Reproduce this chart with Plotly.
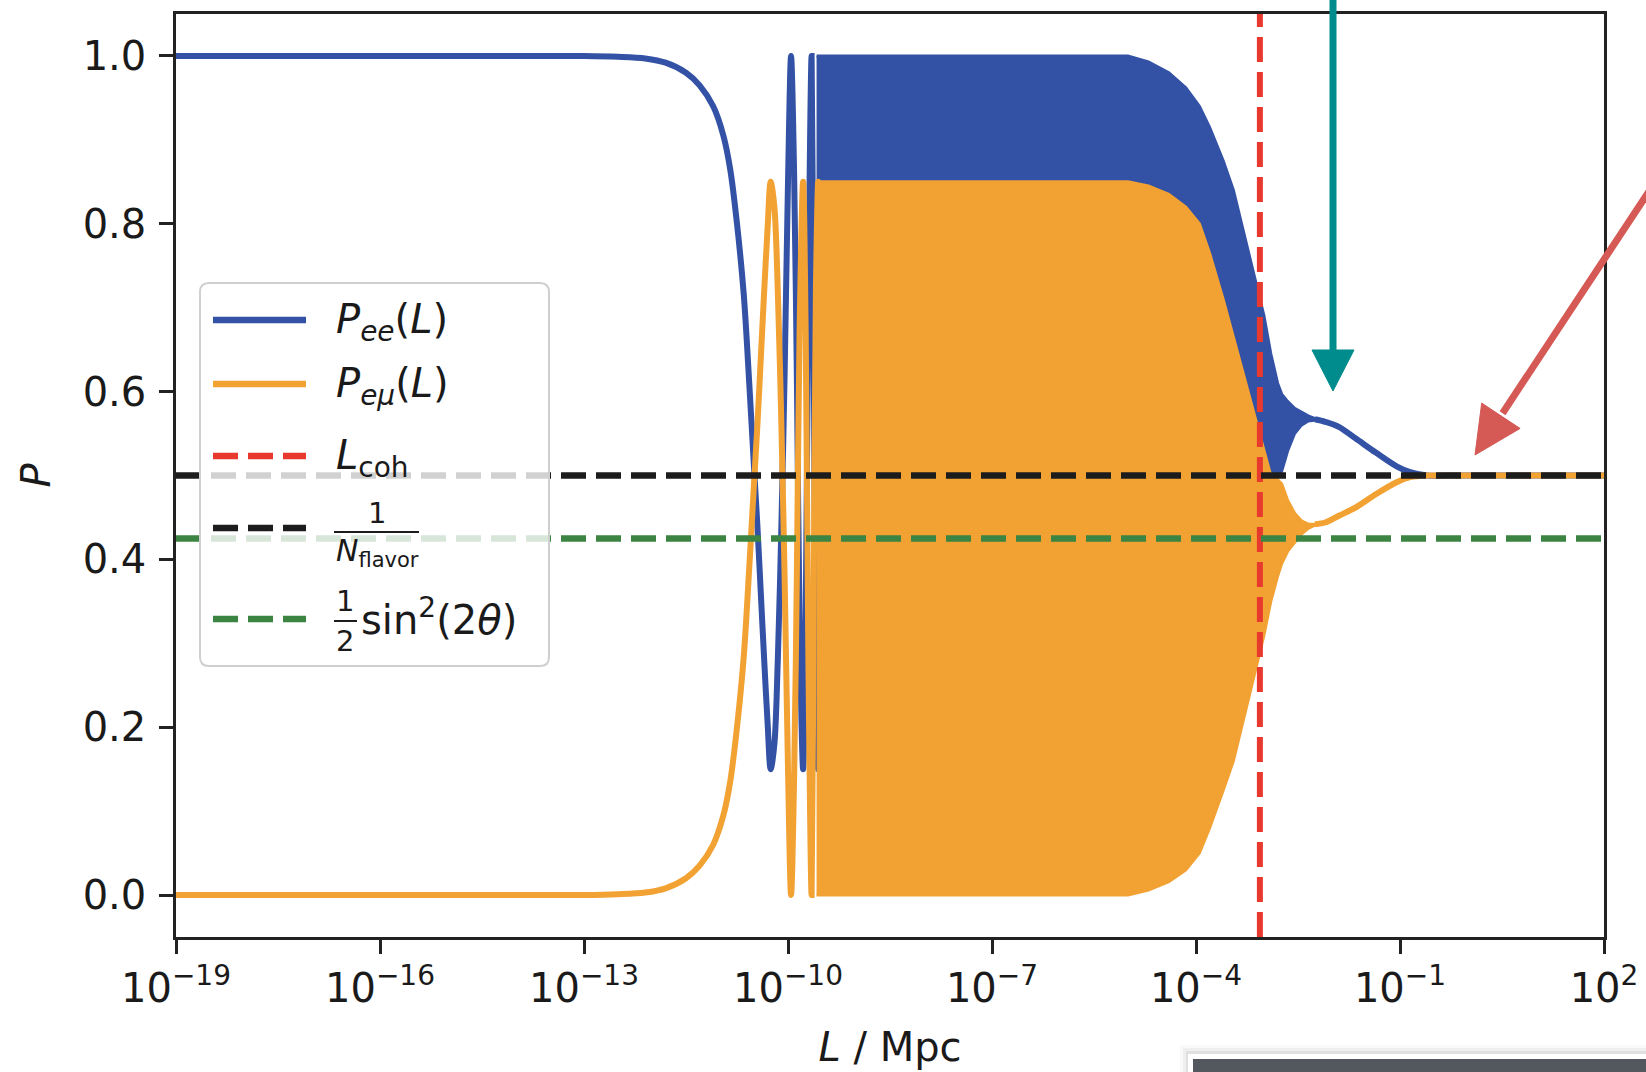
import plotly.graph_objects as go

# ---------------- data ----------------
# smooth / resolved-oscillation part, log10(L/Mpc)
pre_logL = [-19, -13, -12.5, -12.1, -11.8, -11.5, -11.3, -11.1, -10.95, -10.85, -10.75, -10.65,
            -10.57, -10.5, -10.45, -10.4, -10.35, -10.3, -10.255, -10.2, -10.15, -10.1, -10.05,
            -10.0, -9.955, -9.91, -9.87, -9.83, -9.778, -9.74, -9.70, -9.653, -9.62, -9.59,
            -9.556, -9.53, -9.50]
pee_pre = [1.0, 1.0, 0.999, 0.997, 0.992, 0.98, 0.965, 0.94, 0.905, 0.865, 0.80, 0.715,
           0.61, 0.51, 0.44, 0.36, 0.28, 0.205, 0.15, 0.18, 0.28, 0.43, 0.62,
           0.85, 1.0, 0.86, 0.62, 0.33, 0.15, 0.33, 0.72, 1.0, 0.62, 0.28,
           0.15, 0.40, 0.85]
pem_pre = [0.0, 0.0, 0.001, 0.003, 0.008, 0.02, 0.035, 0.06, 0.095, 0.135, 0.20, 0.285,
           0.39, 0.49, 0.56, 0.64, 0.72, 0.795, 0.85, 0.82, 0.72, 0.57, 0.38,
           0.15, 0.0, 0.14, 0.38, 0.67, 0.85, 0.67, 0.28, 0.0, 0.38, 0.72,
           0.85, 0.60, 0.15]

# unresolved fast-oscillation band: upper / lower envelopes
band_logL = [-9.58, -9.0, -8.0, -7.0, -6.0, -5.4, -5.0, -4.7, -4.4, -4.15, -3.95, -3.8, -3.6,
             -3.45, -3.3, -3.15, -3.0, -2.9, -2.8, -2.74, -2.65, -2.55, -2.45, -2.35, -2.25]
pee_hi = [1.0, 1.0, 1.0, 1.0, 1.0, 1.0, 1.0, 0.993, 0.98, 0.962, 0.94, 0.915, 0.875,
          0.84, 0.79, 0.74, 0.69, 0.645, 0.61, 0.597, 0.588, 0.58, 0.575, 0.571, 0.568]
pee_lo = [0.15, 0.15, 0.15, 0.15, 0.15, 0.15, 0.15, 0.155, 0.165, 0.18, 0.20, 0.235, 0.29,
          0.335, 0.38, 0.425, 0.47, 0.50, 0.50, 0.505, 0.53, 0.55, 0.56, 0.565, 0.566]
pem_hi = [0.85, 0.85, 0.85, 0.85, 0.85, 0.85, 0.85, 0.845, 0.835, 0.82, 0.80, 0.765, 0.71,
          0.665, 0.62, 0.575, 0.53, 0.50, 0.495, 0.49, 0.47, 0.455, 0.446, 0.442, 0.442]
pem_lo = [0.0, 0.0, 0.0, 0.0, 0.0, 0.0, 0.0, 0.006, 0.016, 0.03, 0.05, 0.08, 0.125,
          0.16, 0.21, 0.26, 0.31, 0.35, 0.38, 0.395, 0.41, 0.42, 0.43, 0.437, 0.441]

# decohered part
post_logL = [-2.25, -2.1, -1.9, -1.65, -1.35, -1.05, -0.85, -0.6, -0.3, 0.5, 2.0]
pee_post = [0.567, 0.564, 0.558, 0.544, 0.527, 0.511, 0.504, 0.5, 0.5, 0.5, 0.5]
pem_post = [0.442, 0.444, 0.452, 0.462, 0.478, 0.492, 0.498, 0.5, 0.5, 0.5, 0.5]

L_coh = 8.7e-4
inv_nflavor = 0.5
half_sin2 = 0.425

x_tick_vals = [1e-19, 1e-16, 1e-13, 1e-10, 1e-7, 1e-4, 1e-1, 1e2]
x_tick_text = ["10<sup>\u221219</sup>", "10<sup>\u221216</sup>", "10<sup>\u221213</sup>",
               "10<sup>\u221210</sup>", "10<sup>\u22127</sup>", "10<sup>\u22124</sup>",
               "10<sup>\u22121</sup>", "10<sup>2</sup>"]
y_tick_vals = [0.0, 0.2, 0.4, 0.6, 0.8, 1.0]
x_min, x_max = 1e-19, 1e2

# ---------------- styles ----------------
BLUE = "#3352A5"
ORANGE = "#F2A133"
RED = "#E8392F"
BLACK = "#1C1C1C"
GREEN = "#3C8441"
TEAL = "#008C8C"
ARROW_RED = "#D55A55"
FONT = "DejaVu Sans"
FS = 40
CW = 6
DASH = "25px,10px"

W, H = 1646, 1072
PL, PR, PT, PB = 176, 1604, 14, 937


def px(x):
    return (x - PL) / (PR - PL)


def py(y):
    return (PB - y) / (PB - PT)


def P(x, y):
    return f"{px(x):.6f},{py(y):.6f}"


def tolin(v):
    return [10 ** a for a in v]


fig = go.Figure()

# P_ee
fig.add_trace(go.Scatter(x=tolin(pre_logL), y=pee_pre, mode="lines", name="P_ee",
                         line=dict(color=BLUE, width=CW, shape="spline", smoothing=0.9)))
bx = tolin(band_logL)
fig.add_trace(go.Scatter(x=bx + bx[::-1], y=pee_hi + pee_lo[::-1], mode="lines", fill="toself",
                         fillcolor=BLUE, line=dict(color=BLUE, width=3), name="P_ee band"))
fig.add_trace(go.Scatter(x=tolin(post_logL), y=pee_post, mode="lines", name="P_ee",
                         line=dict(color=BLUE, width=CW, shape="spline", smoothing=0.9)))
# P_emu
fig.add_trace(go.Scatter(x=tolin(pre_logL), y=pem_pre, mode="lines", name="P_emu",
                         line=dict(color=ORANGE, width=CW, shape="spline", smoothing=0.9)))
fig.add_trace(go.Scatter(x=bx + bx[::-1], y=pem_hi + pem_lo[::-1], mode="lines", fill="toself",
                         fillcolor=ORANGE, line=dict(color=ORANGE, width=3), name="P_emu band"))
fig.add_trace(go.Scatter(x=tolin(post_logL), y=pem_post, mode="lines", name="P_emu",
                         line=dict(color=ORANGE, width=CW, shape="spline", smoothing=0.9)))
# reference lines
fig.add_trace(go.Scatter(x=[L_coh, L_coh], y=[-0.05, 1.05], mode="lines", name="L_coh",
                         line=dict(color=RED, width=6, dash=DASH)))
fig.add_trace(go.Scatter(x=[x_min, x_max], y=[inv_nflavor, inv_nflavor], mode="lines",
                         name="1/N", line=dict(color=BLACK, width=6.5, dash=DASH)))
fig.add_trace(go.Scatter(x=[x_min, x_max], y=[half_sin2, half_sin2], mode="lines",
                         name="sin2", line=dict(color=GREEN, width=6.5, dash=DASH)))

shapes = []
annots = []

# ---- legend (drawn manually to mimic matplotlib mathtext legend) ----
x0, x1, y0, y1, r = 200, 549, 283, 666, 9
path = (f"M {P(x0 + r, y0)} L {P(x1 - r, y0)} Q {P(x1, y0)} {P(x1, y0 + r)} "
        f"L {P(x1, y1 - r)} Q {P(x1, y1)} {P(x1 - r, y1)} L {P(x0 + r, y1)} "
        f"Q {P(x0, y1)} {P(x0, y1 - r)} L {P(x0, y0 + r)} Q {P(x0, y0)} {P(x0 + r, y0)} Z")
shapes.append(dict(type="path", xref="paper", yref="paper", path=path, layer="above",
                   fillcolor="rgba(255,255,255,0.8)", line=dict(color="#CFCFCF", width=2)))
rows = [(320, BLUE, "solid"), (384, ORANGE, "solid"), (456, RED, DASH),
        (528, BLACK, DASH), (619, GREEN, DASH)]
for yy, col, dsh in rows:
    shapes.append(dict(type="line", xref="paper", yref="paper", x0=px(213), x1=px(306),
                       y0=py(yy), y1=py(yy), layer="above",
                       line=dict(color=col, width=6.5, dash=dsh)))

TX = 334
annots.append(dict(text="<i>P</i><sub><i>ee</i></sub>(<i>L</i>)", x=px(TX), y=py(322)))
annots.append(dict(text="<i>P</i><sub><i>e\u03bc</i></sub>(<i>L</i>)", x=px(TX), y=py(386)))
annots.append(dict(text="<i>L</i><sub>coh</sub>", x=px(TX), y=py(458)))
# 1 / N_flavor
annots.append(dict(text="1", x=px(377), y=py(513), xanchor="center", font=dict(size=29)))
shapes.append(dict(type="line", xref="paper", yref="paper", x0=px(334), x1=px(419),
                   y0=py(532), y1=py(532), layer="above", line=dict(color=BLACK, width=2)))
annots.append(dict(text="<i>N</i><sub>flavor</sub>", x=px(334), y=py(552), font=dict(size=30)))
# 1/2 sin^2(2 theta)
annots.append(dict(text="1", x=px(345), y=py(601), xanchor="center", font=dict(size=29)))
shapes.append(dict(type="line", xref="paper", yref="paper", x0=px(334), x1=px(357),
                   y0=py(621), y1=py(621), layer="above", line=dict(color=BLACK, width=2)))
annots.append(dict(text="2", x=px(345), y=py(641), xanchor="center", font=dict(size=29)))
annots.append(dict(text="sin<sup>2</sup>(2<i>\u03b8</i>)", x=px(359), y=py(617)))

# ---- arrows ----
shapes.append(dict(type="line", xref="paper", yref="paper", x0=px(1333), x1=px(1333),
                   y0=py(-10), y1=py(354), layer="above", line=dict(color=TEAL, width=7)))
shapes.append(dict(type="path", xref="paper", yref="paper", layer="above",
                   path=f"M {P(1312, 350)} L {P(1354, 350)} L {P(1333, 391)} Z",
                   fillcolor=TEAL, line=dict(color=TEAL, width=1)))
tip = (1475, 455)
dx, dy = 0.551, -0.835
hl, hw = 47, 23
bxc, byc = tip[0] + hl * dx, tip[1] + hl * dy
shapes.append(dict(type="line", xref="paper", yref="paper", x0=px(1720), x1=px(bxc + 3 * dx),
                   y0=py(byc + (1720 - bxc) * dy / dx), y1=py(byc + 3 * dy), layer="above",
                   line=dict(color=ARROW_RED, width=7)))
shapes.append(dict(type="path", xref="paper", yref="paper", layer="above",
                   path=(f"M {P(tip[0], tip[1])} L {P(bxc - hw * 0.835, byc - hw * 0.551)} "
                         f"L {P(bxc + hw * 0.835, byc + hw * 0.551)} Z"),
                   fillcolor=ARROW_RED, line=dict(color=ARROW_RED, width=1)))

# ---- dark panel peeking in at bottom right ----
for (ax, ay, col) in [(1180, 1045, "rgba(0,0,0,0.025)"), (1183, 1048, "rgba(0,0,0,0.04)"),
                      (1186, 1051, "rgba(0,0,0,0.06)")]:
    shapes.append(dict(type="rect", xref="paper", yref="paper", x0=px(ax), x1=px(1660),
                       y0=py(ay), y1=py(1080), line=dict(width=0), fillcolor=col, layer="above"))
shapes.append(dict(type="rect", xref="paper", yref="paper", x0=px(1188), x1=px(1660),
                   y0=py(1054), y1=py(1080), line=dict(width=0), fillcolor="white", layer="above"))
shapes.append(dict(type="rect", xref="paper", yref="paper", x0=px(1193), x1=px(1660),
                   y0=py(1059), y1=py(1080), line=dict(width=0), fillcolor="#53575E", layer="above"))

for a in annots:
    a.setdefault("xref", "paper")
    a.setdefault("yref", "paper")
    a.setdefault("xanchor", "left")
    a.setdefault("yanchor", "middle")
    a.setdefault("showarrow", False)
    f = a.get("font", {})
    f.setdefault("size", FS)
    f.setdefault("family", FONT)
    f.setdefault("color", "#1a1a1a")
    a["font"] = f

fig.update_layout(
    width=W, height=H,
    margin=dict(l=PL, r=W - PR, t=PT, b=H - PB, pad=0),
    paper_bgcolor="white", plot_bgcolor="white",
    showlegend=False,
    font=dict(family=FONT, size=FS, color="#1a1a1a"),
    shapes=shapes, annotations=annots,
)
fig.update_xaxes(type="log", range=[-19, 2], tickmode="array", tickvals=x_tick_vals,
                 ticktext=x_tick_text, ticks="outside", ticklen=14, tickwidth=2.5,
                 tickcolor="#222", showline=True, linewidth=2.5, linecolor="#222",
                 mirror=True, showgrid=False, zeroline=False, automargin=False,
                 title=dict(text="<i>L</i> / Mpc", standoff=24, font=dict(size=FS)))
fig.update_yaxes(range=[-0.05, 1.05], tickmode="array", tickvals=y_tick_vals,
                 tickformat=".1f", ticks="outside", ticklen=14, tickwidth=2.5,
                 tickcolor="#222", showline=True, linewidth=2.5, linecolor="#222",
                 mirror=True, showgrid=False, zeroline=False, automargin=False,
                 ticklabelstandoff=5,
                 title=dict(text="<i>P</i>", standoff=20, font=dict(size=FS)))

fig.write_html("out.html")
